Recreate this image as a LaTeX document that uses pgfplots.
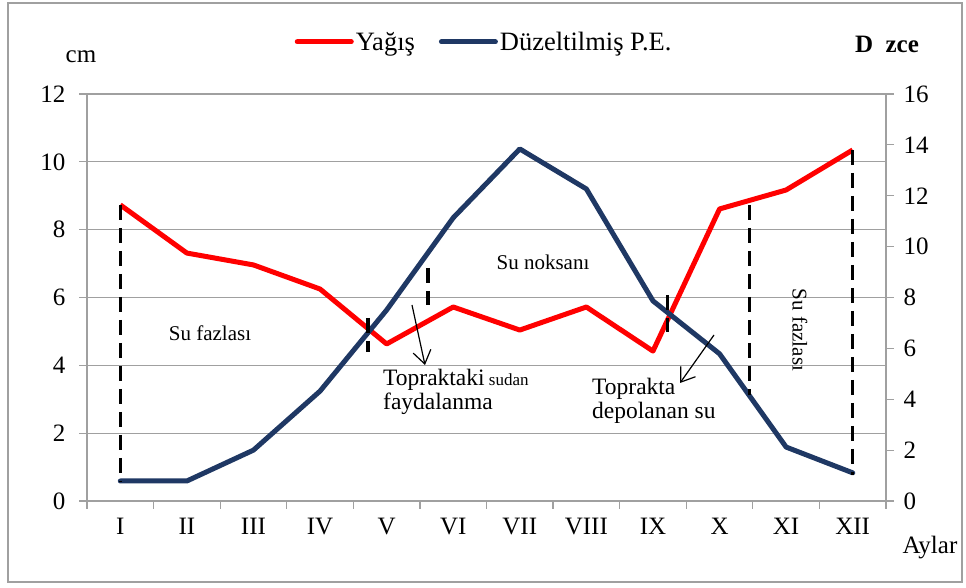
\documentclass[border=0pt]{standalone}
\usepackage{fontspec}
\setmainfont{Liberation Serif}
\usepackage{pgfplots}
\pgfplotsset{compat=1.18}
\usetikzlibrary{arrows.meta}
\definecolor{peblue}{HTML}{1F3864}
\definecolor{gridgray}{HTML}{A0A0A0}
\newcommand{\bigsz}{\fontsize{25}{30}\selectfont}
\newcommand{\legsz}{\fontsize{26.5}{30}\selectfont}
\newcommand{\midsz}{\fontsize{23.5}{28}\selectfont}
\tikzset{mydash/.style={black, line width=3.5pt, dash pattern=on 15pt off 8pt, mark=none}}
\begin{document}
\begin{tikzpicture}[x=1pt,y=1pt]
\useasboundingbox (-87,-87) rectangle (879,501);
\draw[gridgray, line width=1.2pt] (-79,-81) rectangle (875,498);
\begin{axis}[at={(0,0)}, anchor=south west, scale only axis, width=799pt, height=407pt,
  xmin=0.5, xmax=12.5, ymin=0, ymax=12,
  ytick={0,2,...,12},
  xtick={0.5,1.5,...,12.5}, xticklabels={},
  extra x ticks={1,2,...,12},
  extra x tick labels={I,II,III,IV,V,VI,VII,VIII,IX,X,XI,XII},
  extra x tick style={major tick length=0pt, grid=none},
  axis x line*=bottom, axis y line*=left,
  ymajorgrids, grid style={gridgray, line width=1.2pt},
  axis line style={gridgray, line width=1.2pt, -},
  tick style={gridgray, line width=1.2pt},
  major tick length=8pt, tick align=outside,
  tick label style={font=\bigsz, text=black},
  /pgf/number format/assume math mode=true,
  xticklabel style={yshift=-14pt},
  yticklabel style={xshift=-10pt},
  legend style={at={(0.497,1.128)}, anchor=center, draw=none, fill=none, font=\legsz,
    /tikz/every even column/.append style={column sep=22pt}},
  legend columns=2,
  legend image code/.code={\draw[#1, line cap=round] (0pt,0pt) -- (54pt,0pt);},
  clip=false,
]
\addplot[red, line width=5pt, line join=round, mark=none] coordinates {
 (1,8.73)(2,7.31)(3,6.96)(4,6.25)(5,4.63)(6,5.72)(7,5.04)(8,5.72)(9,4.42)(10,8.61)(11,9.17)(12,10.35)};
\addlegendentry{Yağış}
\addplot[peblue, line width=5pt, line join=round, line cap=round, mark=none] coordinates {
 (1,0.59)(2,0.59)(3,1.5)(4,3.24)(5,5.63)(6,8.35)(7,10.38)(8,9.2)(9,5.9)(10,4.34)(11,1.59)(12,0.83)};
\addlegendentry{Düzeltilmiş P.E.}
\addplot[mydash, forget plot] coordinates {(1,8.73)(1,0.59)};
\addplot[mydash, forget plot] coordinates {(4.72,5.4)(4.72,4.4)};
\addplot[mydash, forget plot] coordinates {(5.62,6.87)(5.62,5.78)};
\addplot[mydash, forget plot] coordinates {(9.22,6.08)(9.22,4.99)};
\addplot[mydash, forget plot] coordinates {(10.45,8.73)(10.45,3.13)};
\addplot[mydash, forget plot] coordinates {(12,10.35)(12,0.77)};
\end{axis}
\begin{axis}[at={(0,0)}, anchor=south west, scale only axis, width=799pt, height=407pt,
  xmin=0.5, xmax=12.5, ymin=0, ymax=16,
  ytick={0,2,...,16},
  axis x line=none, axis y line*=right,
  axis line style={gridgray, line width=1.2pt, -},
  tick style={gridgray, line width=1.2pt},
  major tick length=8pt, tick align=outside,
  tick label style={font=\bigsz, text=black},
  /pgf/number format/assume math mode=true,
  yticklabel style={xshift=6pt},
]
\addplot[draw=none, mark=none, forget plot] coordinates {(1,0)};
\end{axis}
\node[font=\bigsz] at (-6,444) {cm};
\node[font=\bigsz\bfseries] at (800,457) {D\ \ zce};
\node[font=\bigsz] at (843,-47) {Aylar};
\node[font=\fontsize{21}{24}\selectfont] at (123,168) {Su fazlası};
\node[font=\fontsize{21}{24}\selectfont] at (456,239) {Su noksanı};
\node[font=\fontsize{21}{24}\selectfont, rotate=-90] at (713,171) {Su fazlası};
\node[font=\midsz, anchor=base west, inner sep=0] at (296,115) {Topraktaki{\fontsize{17}{18}\selectfont\ sudan}};
\node[font=\midsz, anchor=base west, inner sep=0] at (296,91) {faydalanma};
\node[font=\midsz, anchor=base west, inner sep=0] at (505,106) {Toprakta};
\node[font=\midsz, anchor=base west, inner sep=0] at (505,82) {depolanan su};
\draw[line width=1.2pt, -{Straight Barb[length=13pt, width=18pt]}] (325,196) -- (338,136);
\draw[line width=1.2pt, -{Straight Barb[length=13pt, width=18pt]}] (627,166) -- (593,118);
\end{tikzpicture}
\end{document}
